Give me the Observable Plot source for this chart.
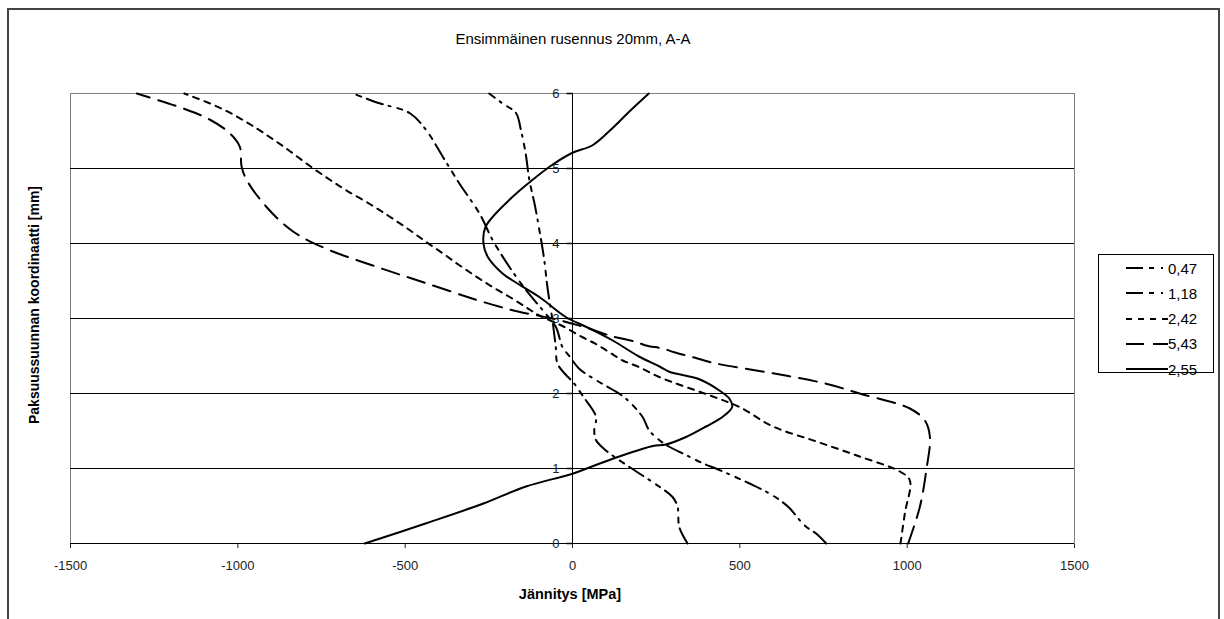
<!DOCTYPE html>
<html><head><meta charset="utf-8">
<script src="https://cdn.jsdelivr.net/npm/d3@7"></script>
<script src="https://cdn.jsdelivr.net/npm/@observablehq/plot@0.6"></script>
<style>
body{margin:0;background:#fff;font-family:"Liberation Sans",Arial,sans-serif;}
#wrap{position:relative;width:1224px;height:619px;overflow:hidden;background:#fff;}
#frame{position:absolute;left:7px;top:8px;width:1213px;height:640px;border:2px solid #444;box-sizing:border-box;}
#chart{position:absolute;left:0;top:0;}
#title{position:absolute;left:373px;width:400px;top:30px;text-align:center;font-size:15px;color:#000;}
#xtitle{position:absolute;left:420px;width:300px;top:586px;text-align:center;font-size:14.5px;font-weight:bold;color:#000;}
#ytitle{position:absolute;left:34px;top:305px;transform:translate(-50%,-50%) rotate(-90deg);white-space:nowrap;font-size:14px;font-weight:bold;color:#000;}
#legend{position:absolute;left:1098px;top:254px;width:116px;height:119px;border:1px solid #000;box-sizing:border-box;background:#fff;}
.row{position:absolute;left:0;height:20px;display:flex;align-items:center;}
.row span{font-size:15px;color:#000;margin-left:0px;}
</style></head><body>
<div id="wrap">
<div id="frame"></div>
<div id="chart"></div>
<div id="title">Ensimmäinen rusennus 20mm, A-A</div>
<div id="xtitle">Jännitys [MPa]</div>
<div id="ytitle">Paksuussuunnan koordinaatti [mm]</div>
<div id="legend"></div>
</div>
<script>
// Series names (legend labels)
const seriesNames = ["0,47", "1,18", "2,42", "5,43", "2,55"];
const seriesDash = ["17,6,5,7,2,6", "17,6,5,7,2,6", "6,6", "18,9", null];

// Axis ticks
const xTicks = [-1500, -1000, -500, 0, 500, 1000, 1500];
const yTicks = [0, 1, 2, 3, 4, 5, 6];
const yGrid = [1, 2, 3, 4, 5];

// Series 0,47  (y = thickness coordinate [mm], x = stress [MPa])
const y047 = [0, 0.22, 0.49, 0.62, 0.76, 1.02, 1.24, 1.38, 1.51, 1.69, 1.96, 2.16, 2.25, 2.4, 2.62, 2.98, 3.42, 3.8, 4.18, 4.5, 4.85, 5.2, 5.51, 5.74, 5.87, 6];
const x047 = [344, 319, 314, 299, 259, 170, 100, 70, 65, 70, 32, 0, -20, -45, -50, -60, -75, -85, -99, -112, -129, -140, -154, -169, -210, -249];

// Series 1,18
const y118 = [0, 0.13, 0.22, 0.31, 0.47, 0.58, 0.69, 0.8, 0.98, 1.07, 1.18, 1.29, 1.38, 1.51, 1.69, 1.93, 2.05, 2.18, 2.33, 2.49, 2.62, 2.89, 3.11, 3.38, 3.69, 4.05, 4.4, 4.8, 5.16, 5.51, 5.74, 5.87, 6];
const x118 = [758, 729, 699, 679, 649, 619, 579, 529, 439, 389, 339, 289, 259, 229, 209, 160, 120, 70, 20, -8, -30, -50, -89, -139, -189, -239, -278, -338, -388, -437, -487, -577, -656];

// Series 2,42
const y242 = [0, 0.4, 0.84, 0.96, 1.16, 1.36, 1.56, 1.82, 1.96, 2.22, 2.36, 2.44, 2.55, 2.66, 2.75, 2.9, 3.04, 3.15, 3.29, 3.42, 3.56, 3.71, 3.87, 4.02, 4.18, 4.36, 4.53, 4.71, 4.85, 5.05, 5.25, 5.42, 5.58, 5.72, 5.85, 6];
const x242 = [980, 993, 1008, 978, 858, 729, 599, 499, 419, 259, 195, 150, 110, 70, 30, -30, -99, -139, -189, -239, -288, -338, -388, -437, -487, -547, -607, -676, -725, -790, -850, -905, -960, -1014, -1074, -1160];

// Series 5,43
const y543 = [0, 0.49, 1.0, 1.42, 1.64, 1.8, 2.0, 2.13, 2.27, 2.4, 2.49, 2.55, 2.6, 2.64, 2.69, 2.76, 2.88, 2.93, 3.0, 3.09, 3.16, 3.25, 3.47, 3.69, 3.93, 4.16, 4.49, 4.85, 5.03, 5.29, 5.47, 5.65, 5.8, 6];
const x543 = [1003, 1038, 1058, 1068, 1053, 1008, 858, 758, 599, 429, 354, 304, 269, 219, 189, 120, 40, 0, -60, -160, -220, -288, -437, -586, -736, -835, -915, -974, -989, -994, -1024, -1083, -1163, -1302];

// Series 2,55
const y255 = [0, 0.27, 0.53, 0.76, 0.93, 1.03, 1.16, 1.3, 1.32, 1.42, 1.56, 1.69, 1.82, 1.93, 2.04, 2.19, 2.29, 2.36, 2.49, 2.71, 2.89, 3.02, 3.29, 3.51, 3.6, 3.82, 4.0, 4.22, 4.58, 4.85, 5.05, 5.21, 5.31, 5.54, 5.76, 6];
const x255 = [-621, -437, -268, -139, 0, 60, 140, 240, 279, 339, 399, 449, 477, 469, 439, 379, 289, 260, 200, 119, 40, -20, -100, -180, -209, -253, -266, -260, -189, -119, -60, 0, 60, 120, 170, 228];

const ysAll = [y047, y118, y242, y543, y255];
const xsAll = [x047, x118, x242, x543, x255];

const data = seriesNames.flatMap((name, i) => ysAll[i].map((y, j) => ({series: name, y, x: xsAll[i][j]})));

const tickSymbol = {draw(ctx) { ctx.moveTo(-6, 0); ctx.lineTo(0, 0); }};

const lineMarks = seriesNames.map((name, i) => Plot.line(data.filter(d => d.series === name), {
  x: "x", y: "y", stroke: "#000", strokeWidth: 2,
  strokeDasharray: seriesDash[i] || undefined, curve: "catmull-rom"
}));

const chart = Plot.plot({
  width: 1224, height: 619,
  marginLeft: 70, marginRight: 150, marginTop: 93, marginBottom: 76,
  style: {fontFamily: "'Liberation Sans', Arial, sans-serif", fontSize: "13px", background: "transparent", color: "#222"},
  x: {domain: [-1500, 1500], ticks: xTicks, tickSize: 5, tickPadding: 12, label: null, tickFormat: d => String(d)},
  y: {domain: [0, 6], axis: null},
  marks: [
    Plot.frame({stroke: "#808080"}),
    Plot.ruleY(yGrid, {stroke: "#000", strokeWidth: 1}),
    Plot.ruleY([0], {stroke: "#000", strokeWidth: 1}),
    Plot.ruleX([0], {stroke: "#000", strokeWidth: 1}),
    Plot.dot(yTicks, {x: () => 0, y: d => d, symbol: tickSymbol, stroke: "#000", r: 3}),
    Plot.text(yTicks, {x: () => 0, y: d => d, text: d => String(d), dx: -13, textAnchor: "end", fill: "#222", fontSize: 13}),
    ...lineMarks
  ]
});
document.getElementById("chart").appendChild(chart);

// Legend
const legend = document.getElementById("legend");
seriesNames.forEach((name, i) => {
  const row = document.createElement("div");
  row.className = "row";
  row.style.top = (3 + i * 25.3) + "px";
  row.style.left = "27px";
  const svg = d3.create("svg").attr("width", 42).attr("height", 20);
  const ln = svg.append("line").attr("x1", 0).attr("x2", 42).attr("y1", 10).attr("y2", 10)
    .attr("stroke", "#000").attr("stroke-width", 2);
  if (seriesDash[i]) ln.attr("stroke-dasharray", seriesDash[i]);
  row.appendChild(svg.node());
  const sp = document.createElement("span");
  sp.textContent = name;
  row.appendChild(sp);
  legend.appendChild(row);
});
</script>
</body></html>
